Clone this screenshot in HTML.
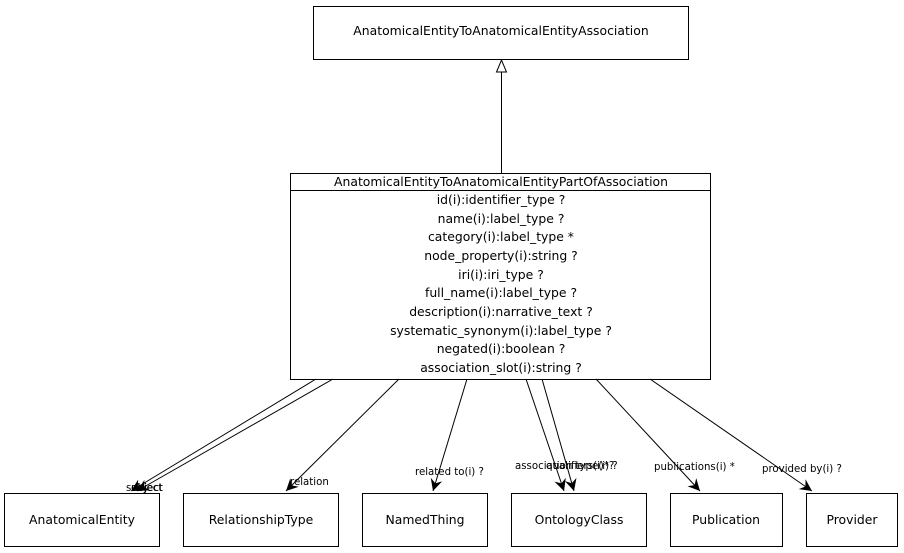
<!DOCTYPE html>
<html><head><style>body{margin:0;background:#fff}svg{display:block}text{font-family:"DejaVu Sans","Liberation Sans",sans-serif;fill:#000}</style></head>
<body>
<svg width="904" height="553" viewBox="0 0 904 553" xmlns="http://www.w3.org/2000/svg">
<defs>
<marker id="a" markerWidth="14" markerHeight="14" refX="12" refY="6" orient="auto" markerUnits="userSpaceOnUse">
<path d="M0,0 L12,6 L0,12 L4,6 Z" fill="#000"/></marker>
</defs>
<g fill="none" stroke="#000" stroke-width="1">
<rect x="313.5" y="6.5" width="375" height="53"/>
<rect x="290.5" y="173.5" width="420" height="206"/>
<line x1="290" y1="190.5" x2="711" y2="190.5"/>
<rect x="4.5" y="493.5" width="155" height="53"/>
<rect x="183.5" y="493.5" width="155" height="53"/>
<rect x="362.5" y="493.5" width="125" height="53"/>
<rect x="511.5" y="493.5" width="135" height="53"/>
<rect x="670.5" y="493.5" width="112" height="53"/>
<rect x="806.5" y="493.5" width="91" height="53"/>
<line x1="501.5" y1="173" x2="501.5" y2="72"/>
<path d="M496.5,72 L501.5,60 L506.5,72 Z" fill="#fff"/>
<g marker-end="url(#a)">
<line x1="316" y1="379" x2="131" y2="491"/>
<line x1="333" y1="379" x2="137" y2="491"/>
<line x1="399" y1="379" x2="286" y2="491"/>
<line x1="467" y1="379" x2="433" y2="491"/>
<line x1="526" y1="379" x2="564" y2="491"/>
<line x1="542" y1="379" x2="574" y2="491"/>
<line x1="596" y1="379" x2="700" y2="491"/>
<line x1="650" y1="379" x2="812" y2="491"/>
</g>
</g>
<g font-size="12.4" text-anchor="middle">
<text x="501" y="35">AnatomicalEntityToAnatomicalEntityAssociation</text>
<text x="501" y="186">AnatomicalEntityToAnatomicalEntityPartOfAssociation</text>
<text x="501" y="204">id(i):identifier_type ?</text>
<text x="501" y="223">name(i):label_type ?</text>
<text x="501" y="241">category(i):label_type *</text>
<text x="501" y="260">node_property(i):string ?</text>
<text x="501" y="279">iri(i):iri_type ?</text>
<text x="501" y="297">full_name(i):label_type ?</text>
<text x="501" y="316">description(i):narrative_text ?</text>
<text x="501" y="335">systematic_synonym(i):label_type ?</text>
<text x="501" y="353">negated(i):boolean ?</text>
<text x="501" y="372">association_slot(i):string ?</text>
<text x="82" y="524">AnatomicalEntity</text>
<text x="261" y="524">RelationshipType</text>
<text x="425" y="524">NamedThing</text>
<text x="579" y="524">OntologyClass</text>
<text x="726" y="524">Publication</text>
<text x="852" y="524">Provider</text>
</g>
<g font-size="10.2">
<text x="126" y="491">subject</text>
<text x="131" y="491">object</text>
<text x="290" y="485">relation</text>
<text x="415" y="475">related to(i) ?</text>
<text x="515" y="469">association type(i) ?</text>
<text x="546" y="469">qualifiers(i)*?</text>
<text x="654" y="470">publications(i) *</text>
<text x="762" y="472">provided by(i) ?</text>
</g>
</svg>
</body></html>
